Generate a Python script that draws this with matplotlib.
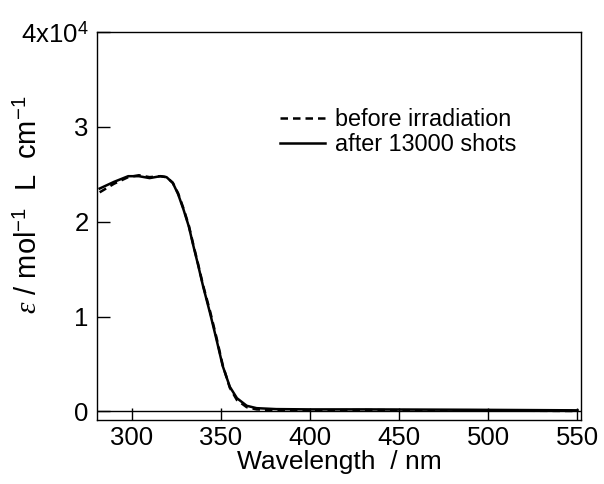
import matplotlib
matplotlib.use("Agg")
import matplotlib.pyplot as plt

plt.rcParams['font.family'] = ['Liberation Sans', 'DejaVu Sans']
plt.rcParams['mathtext.fontset'] = 'custom'
plt.rcParams['mathtext.rm'] = 'Liberation Sans'
plt.rcParams['mathtext.it'] = 'Liberation Serif:italic'

# absorption spectra (epsilon in units of 1e4 mol-1 L cm-1)
wl = [282, 290, 298, 304, 310, 316, 319.5, 323, 326, 329, 332, 334.5, 337, 340, 344, 347.5,
      351, 355, 359, 364.5, 370, 381, 400, 430, 460, 490, 520, 550]
after = [2.35, 2.42, 2.48, 2.48, 2.46, 2.48, 2.47, 2.41, 2.29, 2.13, 1.95, 1.75, 1.56, 1.32,
         1.03, 0.76, 0.48, 0.26, 0.14, 0.06, 0.035, 0.025, 0.022, 0.022, 0.02, 0.018, 0.015, 0.012]
before = [2.31, 2.40, 2.47, 2.49, 2.47, 2.48, 2.47, 2.41, 2.30, 2.14, 1.96, 1.76, 1.57, 1.33,
          1.05, 0.78, 0.49, 0.25, 0.12, 0.045, 0.022, 0.014, 0.012, 0.015, 0.013, 0.01, 0.008, 0.005]

fig = plt.figure(figsize=(6.04, 4.84), dpi=100)
ax = fig.add_axes([0.1606, 0.1322, 0.8014, 0.8017])

ax.axhline(0, color='black', lw=1.0)
ax.plot(wl, before, 'k--', lw=1.8, dashes=(3, 2), label='before irradiation')
ax.plot(wl, after, 'k-', lw=1.8, label='after 13000 shots')

ax.set_xlim(280.5, 552)
ax.set_ylim(-0.09, 4.0)
ax.set_xticks([300, 350, 400, 450, 500, 550])
ax.set_yticks([0, 1, 2, 3, 4])
ax.set_yticklabels(['0', '1', '2', '3', r'4x10$^4$'])
ax.tick_params(direction='in', length=9, width=1, labelsize=18.5)
ax.tick_params(axis='x', pad=4)
ax.tick_params(axis='y', pad=6)
for s in ax.spines.values():
    s.set_linewidth(1.0)

ax.set_xlabel('Wavelength  / nm', fontsize=19, labelpad=0)
fig.text(0.048, 0.578, r'$\mathit{\varepsilon}$ / mol$^{-1}$  L  cm$^{-1}$', rotation=90,
         fontsize=21, ha='center', va='center')

ax.legend(loc='upper left', bbox_to_anchor=(0.4636, 0.777), bbox_transform=fig.transFigure,
          frameon=False, fontsize=16.8, borderpad=0, borderaxespad=0,
          handlelength=1.93, handletextpad=0.43, labelspacing=0.1)

fig.savefig('out.png', dpi=100)
